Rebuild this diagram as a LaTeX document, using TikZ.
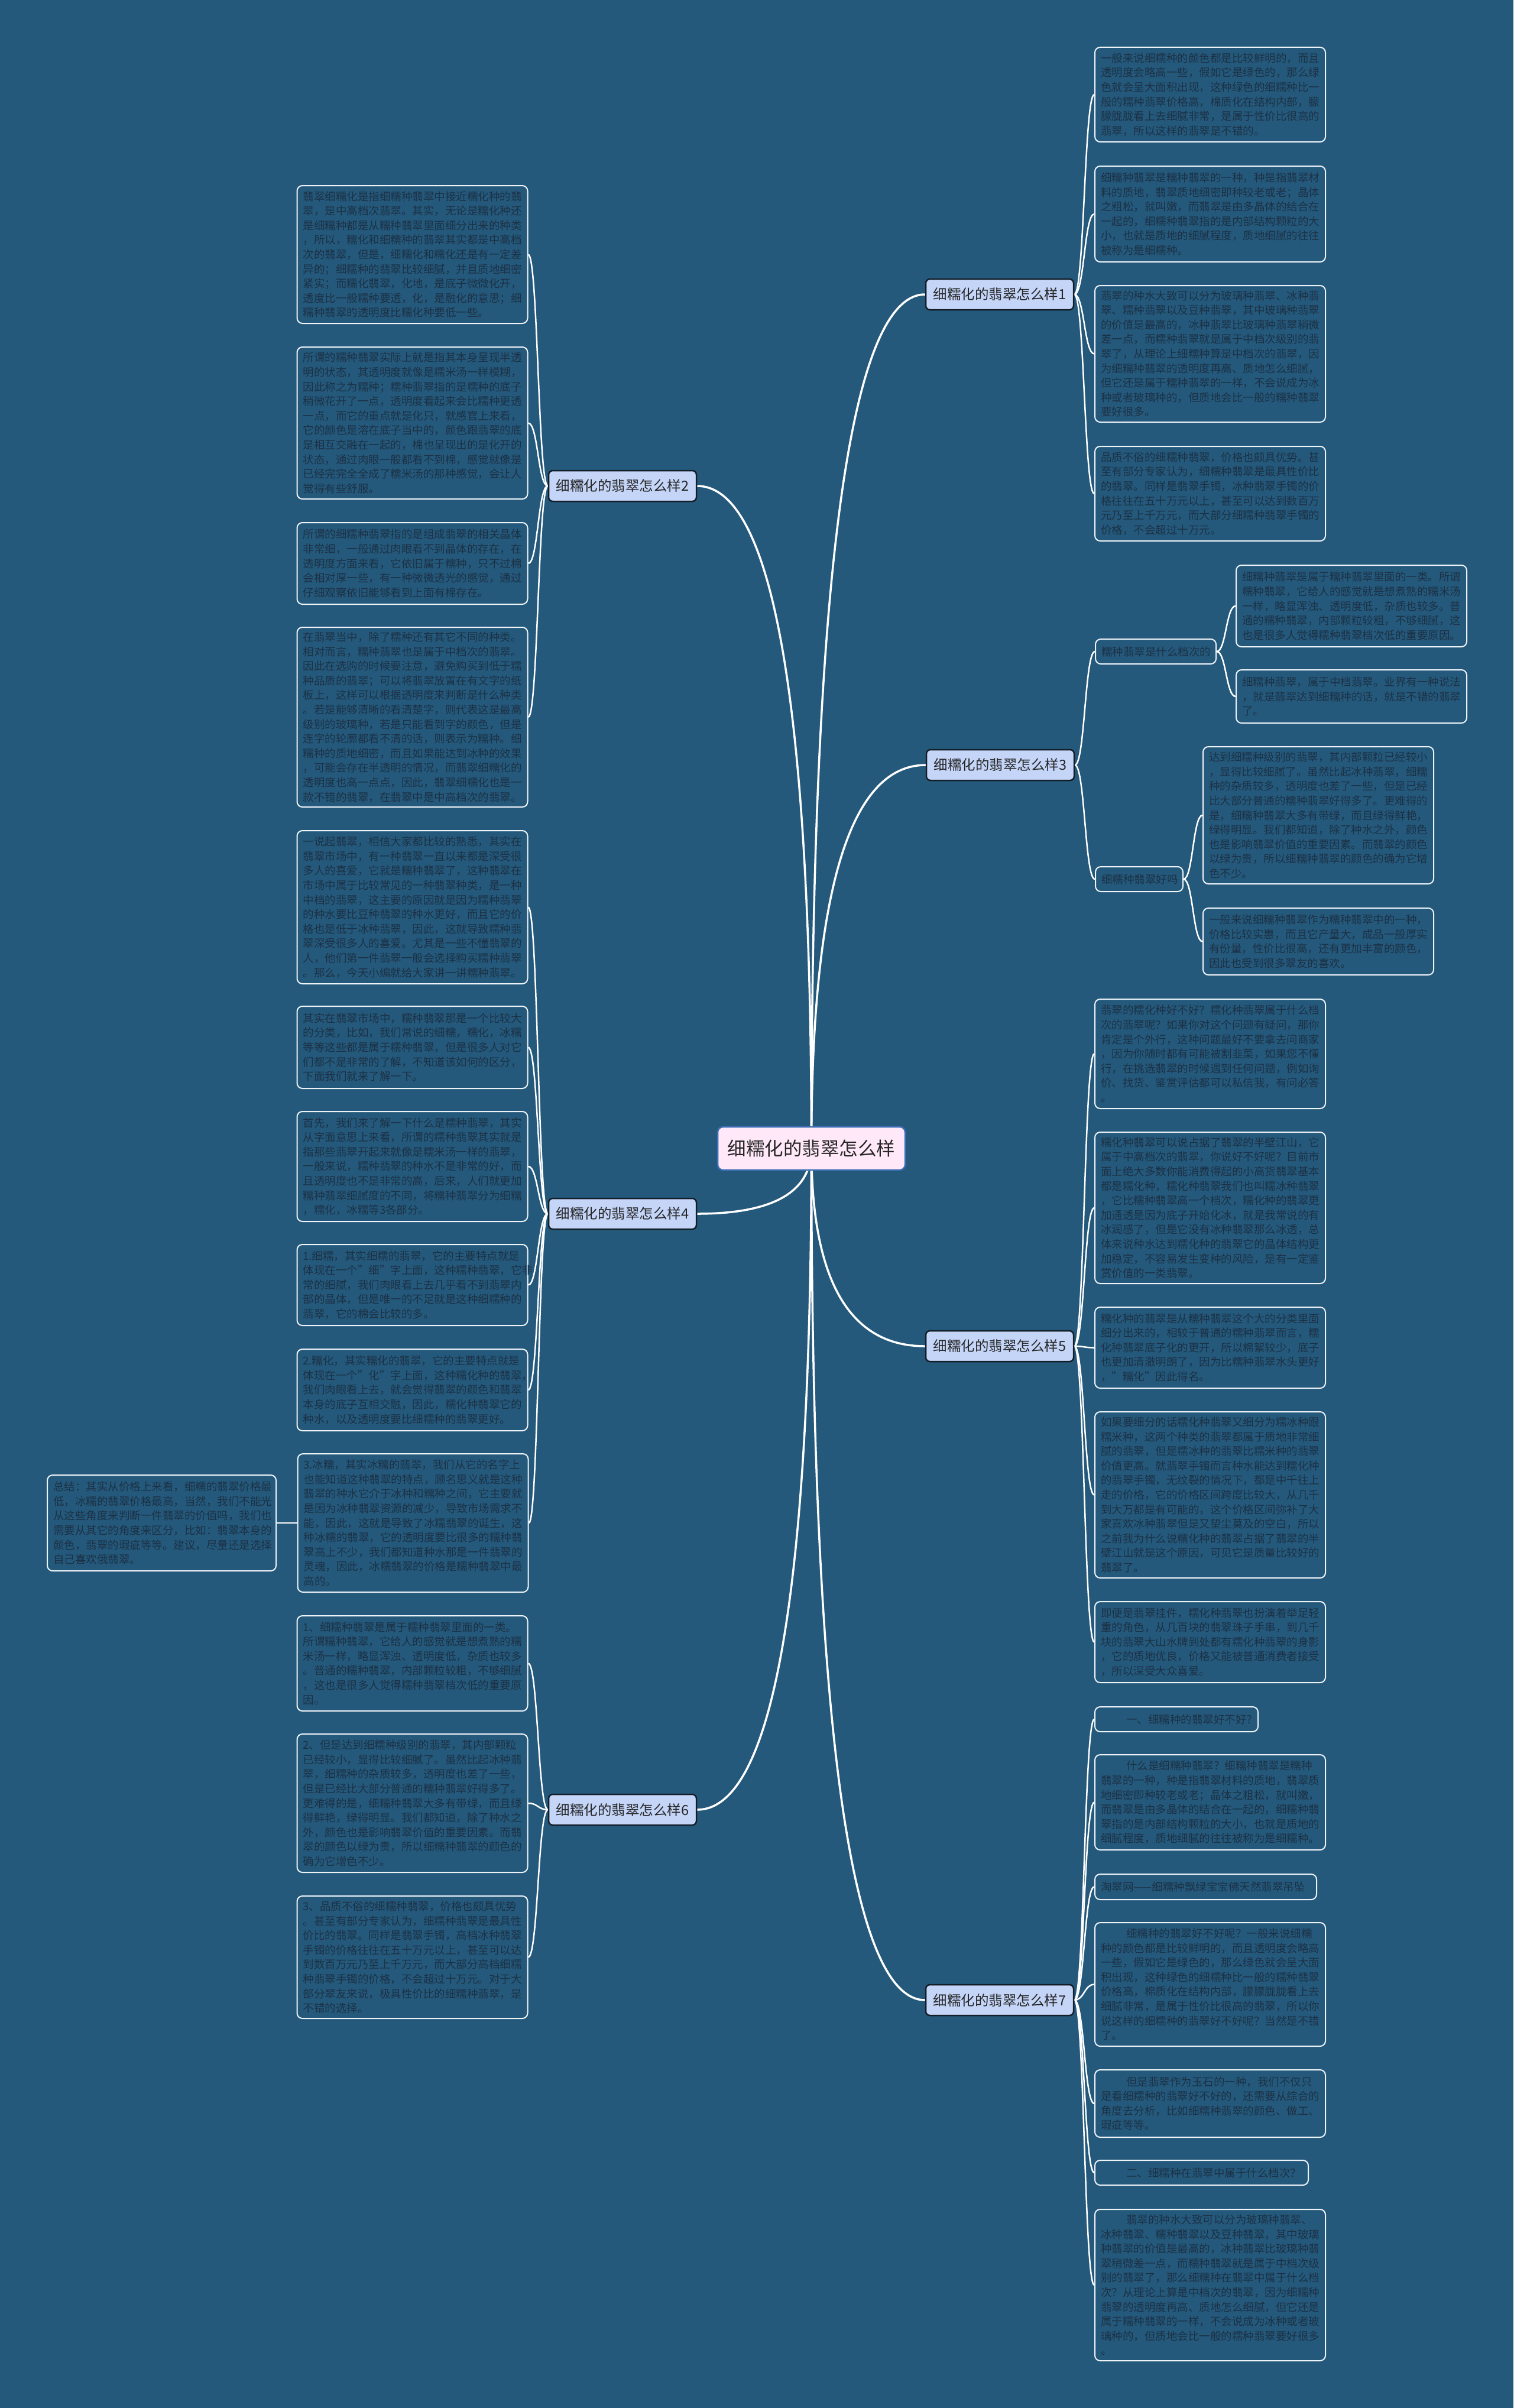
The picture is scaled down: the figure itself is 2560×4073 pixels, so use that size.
\documentclass[tikz,border=0pt]{standalone}
\usepackage{fontspec}
\setmainfont{Noto Sans CJK SC}
\usetikzlibrary{calc,backgrounds}
\definecolor{bgc}{HTML}{24597C}
\definecolor{leafline}{HTML}{EEF3F8}
\definecolor{leaftext}{HTML}{1C3145}
\definecolor{branchfill}{HTML}{C4D5F8}
\definecolor{branchline}{HTML}{141E28}
\definecolor{rootfill}{HTML}{FFE8F8}
\definecolor{rootline}{HTML}{3D6FB5}
\tikzset{
  leafbox/.style={draw=leafline, line width=2pt, fill=bgc, rounded corners=9pt, text=leaftext,
    font=\fontsize{18.5}{24.6}\selectfont, align=left, text width=370pt, inner xsep=10pt, inner ysep=5pt},
  branchbox/.style={draw=branchline, line width=2.5pt, fill=branchfill, rounded corners=7pt, text=black!85,
    font=\fontsize{23.5}{28}\selectfont, minimum width=250pt, minimum height=52pt, inner sep=4pt},
  rootbox/.style={draw=rootline, line width=2.5pt, fill=rootfill, rounded corners=9pt, text=black!85,
    font=\fontsize{31.5}{36}\selectfont, minimum width=317pt, minimum height=73pt},
  mainlink/.style={draw=white, line width=3.5pt},
  leaflink/.style={draw=white, line width=2.5pt}
}
\newcommand{\linkR}[2]{\path ($(#1.east)!0.5!(#2.west)$) coordinate (mm);
  \draw[leaflink] (#1.east) .. controls (mm|-#1.east) and (mm|-#2.west) .. (#2.west);}
\newcommand{\linkL}[2]{\path ($(#1.west)!0.5!(#2.east)$) coordinate (mm);
  \draw[leaflink] (#1.west) .. controls (mm|-#1.west) and (mm|-#2.east) .. (#2.east);}
\newcommand{\rootR}[2]{\draw[mainlink] (#1.center) .. controls ($(#1.center)!0.6667!(#1.center|-#2.west)$) and ($(#2.west)!0.6667!(#1.center|-#2.west)$) .. (#2.west);}
\newcommand{\rootL}[2]{\draw[mainlink] (#1.center) .. controls ($(#1.center)!0.6667!(#1.center|-#2.east)$) and ($(#2.east)!0.6667!(#1.center|-#2.east)$) .. (#2.east);}
\newcommand{\ind}{\hspace*{43pt}}
\begin{document}
\begin{tikzpicture}[x=1pt,y=-1pt]
\useasboundingbox (0,0) rectangle (2560,4073);
% root and branches
\node[rootbox] (root) at (1372.5,1942.5) {细糯化的翡翠怎么样};
\node[branchbox] (b1) at (1691,498) {细糯化的翡翠怎么样1};
\node[branchbox] (b2) at (1053,822) {细糯化的翡翠怎么样2};
\node[branchbox] (b3) at (1692,1294) {细糯化的翡翠怎么样3};
\node[branchbox] (b4) at (1053,2053) {细糯化的翡翠怎么样4};
\node[branchbox] (b5) at (1691,2277) {细糯化的翡翠怎么样5};
\node[branchbox] (b6) at (1053,3061) {细糯化的翡翠怎么样6};
\node[branchbox] (b7) at (1691,3383) {细糯化的翡翠怎么样7};
% branch 1
\node[leafbox, minimum height=160pt] (r1) at (2047,160) {一般来说细糯种的颜色都是比较鲜明的，而且\\透明度会略高一些，假如它是绿色的，那么绿\\色就会呈大面积出现，这种绿色的细糯种比一\\般的糯种翡翠价格高，棉质化在结构内部，朦\\朦胧胧看上去细腻非常，是属于性价比很高的\\翡翠，所以这样的翡翠是不错的。};
\node[leafbox, minimum height=162pt] (r2) at (2047,362) {细糯种翡翠是糯种翡翠的一种，种是指翡翠材\\料的质地，翡翠质地细密即种较老或老；晶体\\之粗松，就叫嫩，而翡翠是由多晶体的结合在\\一起的，细糯种翡翠指的是内部结构颗粒的大\\小，也就是质地的细腻程度，质地细腻的往往\\被称为是细糯种。};
\node[leafbox, minimum height=231pt] (r3) at (2047,598.5) {翡翠的种水大致可以分为玻璃种翡翠、冰种翡\\翠、糯种翡翠以及豆种翡翠，其中玻璃种翡翠\\的价值是最高的，冰种翡翠比玻璃种翡翠稍微\\差一点，而糯种翡翠就是属于中档次级别的翡\\翠了，从理论上细糯种算是中档次的翡翠，因\\为细糯种翡翠的透明度再高、质地怎么细腻，\\但它还是属于糯种翡翠的一样，不会说成为冰\\种或者玻璃种的，但质地会比一般的糯种翡翠\\要好很多。};
\node[leafbox, minimum height=160pt] (r4) at (2047,835) {品质不俗的细糯种翡翠，价格也颇具优势。甚\\至有部分专家认为，细糯种翡翠是最具性价比\\的翡翠。同样是翡翠手镯，冰种翡翠手镯的价\\格往往在五十万元以上，甚至可以达到数百万\\元乃至上千万元，而大部分细糯种翡翠手镯的\\价格，不会超过十万元。};
% branch 3
\node[leafbox, text width=184pt, minimum height=42pt] (s1) at (1955,1102) {糯种翡翠是什么档次的};
\node[leafbox, minimum height=138pt] (s1a) at (2286,1025) {细糯种翡翠是属于糯种翡翠里面的一类。所谓\\糯种翡翠，它给人的感觉就是想煮熟的糯米汤\\一样，略显浑浊、透明度低，杂质也较多。普\\通的糯种翡翠，内部颗粒较粗，不够细腻，这\\也是很多人觉得糯种翡翠档次低的重要原因。};
\node[leafbox, minimum height=90pt] (s1b) at (2286,1178) {细糯种翡翠，属于中档翡翠。业界有一种说法\\，就是翡翠达到细糯种的话，就是不错的翡翠\\了。};
\node[leafbox, text width=128pt, minimum height=42pt] (s2) at (1927,1487) {细糯种翡翠好吗};
\node[leafbox, minimum height=232pt] (s2a) at (2230,1379) {达到细糯种级别的翡翠，其内部颗粒已经较小\\，显得比较细腻了。虽然比起冰种翡翠，细糯\\种的杂质较多，透明度也差了一些，但是已经\\比大部分普通的糯种翡翠好得多了。更难得的\\是，细糯种翡翠大多有带绿，而且绿得鲜艳，\\绿得明显。我们都知道，除了种水之外，颜色\\也是影响翡翠价值的重要因素。而翡翠的颜色\\以绿为贵，所以细糯种翡翠的颜色的确为它增\\色不少。};
\node[leafbox, minimum height=113pt] (s2b) at (2230,1592.5) {一般来说细糯种翡翠作为糯种翡翠中的一种，\\价格比较实惠，而且它产量大，成品一般厚实\\有份量，性价比很高，还有更加丰富的颜色，\\因此也受到很多翠友的喜欢。};
% branch 5
\node[leafbox, minimum height=185pt] (r5a) at (2047,1782.5) {翡翠的糯化种好不好？糯化种翡翠属于什么档\\次的翡翠呢？如果你对这个问题有疑问，那你\\肯定是个外行，这种问题最好不要拿去问商家\\，因为你随时都有可能被割韭菜，如果您不懂\\行，在挑选翡翠的时候遇到任何问题，例如询\\价、找货、鉴赏评估都可以私信我，有问必答\\。};
\node[leafbox, minimum height=256pt] (r5b) at (2047,2043) {糯化种翡翠可以说占据了翡翠的半壁江山，它\\属于中高档次的翡翠，你说好不好呢？目前市\\面上绝大多数你能消费得起的小高货翡翠基本\\都是糯化种，糯化种翡翠我们也叫糯冰种翡翠\\，它比糯种翡翠高一个档次，糯化种的翡翠更\\加通透是因为底子开始化冰，就是我常说的有\\冰润感了，但是它没有冰种翡翠那么冰透，总\\体来说种水达到糯化种的翡翠它的晶体结构更\\加稳定，不容易发生变种的风险，是有一定鉴\\赏价值的一类翡翠。};
\node[leafbox, minimum height=137pt] (r5c) at (2047,2279.5) {糯化种的翡翠是从糯种翡翠这个大的分类里面\\细分出来的，相较于普通的糯种翡翠而言，糯\\化种翡翠底子化的更开，所以棉絮较少，底子\\也更加清澈明朗了，因为比糯种翡翠水头更好\\，"糯化"因此得名。};
\node[leafbox, minimum height=281pt] (r5d) at (2047,2528.5) {如果要细分的话糯化种翡翠又细分为糯冰种跟\\糯米种，这两个种类的翡翠都属于质地非常细\\腻的翡翠，但是糯冰种的翡翠比糯米种的翡翠\\价值更高。就翡翠手镯而言种水能达到糯化种\\的翡翠手镯，无纹裂的情况下，都是中千往上\\走的价格，它的价格区间跨度比较大，从几千\\到大万都是有可能的，这个价格区间弥补了大\\家喜欢冰种翡翠但是又望尘莫及的空白，所以\\之前我为什么说糯化种的翡翠占据了翡翠的半\\壁江山就是这个原因，可见它是质量比较好的\\翡翠了。};
\node[leafbox, minimum height=137pt] (r5e) at (2047,2777.5) {即便是翡翠挂件，糯化种翡翠也扮演着举足轻\\重的角色，从几百块的翡翠珠子手串，到几千\\块的翡翠大山水牌到处都有糯化种翡翠的身影\\，它的质地优良，价格又能被普通消费者接受\\，所以深受大众喜爱。};
% branch 7
\node[leafbox, text width=256pt, minimum height=42pt] (r7a) at (1990,2908) {\ind 一、细糯种的翡翠好不好？};
\node[leafbox, minimum height=161pt] (r7b) at (2047,3048.5) {\ind 什么是细糯种翡翠？细糯种翡翠是糯种\\翡翠的一种，种是指翡翠材料的质地，翡翠质\\地细密即种较老或老；晶体之粗松，就叫嫩，\\而翡翠是由多晶体的结合在一起的，细糯种翡\\翠指的是内部结构颗粒的大小，也就是质地的\\细腻程度，质地细腻的往往被称为是细糯种。};
\node[leafbox, text width=355pt, minimum height=43pt] (r7c) at (2039.5,3191.5) {淘翠网——细糯种飘绿宝宝佛天然翡翠吊坠};
\node[leafbox, minimum height=209pt] (r7d) at (2047,3356.5) {\ind 细糯种的翡翠好不好呢？一般来说细糯\\种的颜色都是比较鲜明的，而且透明度会略高\\一些，假如它是绿色的，那么绿色就会呈大面\\积出现，这种绿色的细糯种比一般的糯种翡翠\\价格高，棉质化在结构内部，朦朦胧胧看上去\\细腻非常，是属于性价比很高的翡翠，所以你\\说这样的细糯种的翡翠好不好呢？当然是不错\\了。};
\node[leafbox, minimum height=114pt] (r7e) at (2047,3558) {\ind 但是翡翠作为玉石的一种，我们不仅只\\是看细糯种的翡翠好不好的，还需要从综合的\\角度去分析，比如细糯种翡翠的颜色、做工、\\瑕疵等等。};
\node[leafbox, text width=341pt, minimum height=42pt] (r7f) at (2032.5,3675) {\ind 二、细糯种在翡翠中属于什么档次？};
\node[leafbox, minimum height=256pt] (r7g) at (2047,3865) {\ind 翡翠的种水大致可以分为玻璃种翡翠、\\冰种翡翠、糯种翡翠以及豆种翡翠，其中玻璃\\种翡翠的价值是最高的，冰种翡翠比玻璃种翡\\翠稍微差一点，而糯种翡翠就是属于中档次级\\别的翡翠了，那么细糯种在翡翠中属于什么档\\次？从理论上算是中档次的翡翠，因为细糯种\\翡翠的透明度再高、质地怎么细腻，但它还是\\属于糯种翡翠的一样，不会说成为冰种或者玻\\璃种的，但质地会比一般的糯种翡翠要好很多\\。};
% branch 2
\node[leafbox, minimum height=233pt] (l2a) at (697.5,430.5) {翡翠细糯化是指细糯种翡翠中接近糯化种的翡\\翠，是中高档次翡翠。其实，无论是糯化种还\\是细糯种都是从糯种翡翠里面细分出来的种类\\，所以，糯化和细糯种的翡翠其实都是中高档\\次的翡翠，但是，细糯化和糯化还是有一定差\\异的；细糯种的翡翠比较细腻，并且质地细密\\紧实；而糯化翡翠，化地，是底子微微化开，\\透度比一般糯种要透，化，是融化的意思；细\\糯种翡翠的透明度比糯化种要低一些。};
\node[leafbox, minimum height=257pt] (l2b) at (697.5,715.5) {所谓的糯种翡翠实际上就是指其本身呈现半透\\明的状态，其透明度就像是糯米汤一样模糊，\\因此称之为糯种；糯种翡翠指的是糯种的底子\\稍微花开了一点，透明度看起来会比糯种更透\\一点，而它的重点就是化只，就感官上来看，\\它的颜色是溶在底子当中的，颜色跟翡翠的底\\是相互交融在一起的，棉也呈现出的是化开的\\状态，通过肉眼一般都看不到棉，感觉就像是\\已经完完全全成了糯米汤的那种感觉，会让人\\觉得有些舒服。};
\node[leafbox, minimum height=138pt] (l2c) at (697.5,953) {所谓的细糯种翡翠指的是组成翡翠的相关晶体\\非常细，一般通过肉眼看不到晶体的存在，在\\透明度方面来看，它依旧属于糯种，只不过棉\\会相对厚一些，有一种微微透光的感觉，通过\\仔细观察依旧能够看到上面有棉存在。};
\node[leafbox, minimum height=304pt] (l2d) at (697.5,1213) {在翡翠当中，除了糯种还有其它不同的种类。\\相对而言，糯种翡翠也是属于中档次的翡翠。\\因此在选购的时候要注意，避免购买到低于糯\\种品质的翡翠；可以将翡翠放置在有文字的纸\\板上，这样可以根据透明度来判断是什么种类\\。若是能够清晰的看清楚字，则代表这是最高\\级别的玻璃种，若是只能看到字的颜色，但是\\连字的轮廓都看不清的话，则表示为糯种。细\\糯种的质地细密，而且如果能达到冰种的效果\\，可能会存在半透明的情况，而翡翠细糯化的\\透明度也高一点点，因此，翡翠细糯化也是一\\款不错的翡翠，在翡翠中是中高档次的翡翠。};
% branch 4
\node[leafbox, minimum height=259pt] (l4a) at (697.5,1534.5) {一说起翡翠，相信大家都比较的熟悉，其实在\\翡翠市场中，有一种翡翠一直以来都是深受很\\多人的喜爱，它就是糯种翡翠了，这种翡翠在\\市场中属于比较常见的一种翡翠种类，是一种\\中档的翡翠，这主要的原因就是因为糯种翡翠\\的种水要比豆种翡翠的种水更好，而且它的价\\格也是低于冰种翡翠，因此，这就导致糯种翡\\翠深受很多人的喜爱。尤其是一些不懂翡翠的\\人，他们第一件翡翠一般会选择购买糯种翡翠\\。那么，今天小编就给大家讲一讲糯种翡翠。};
\node[leafbox, minimum height=139pt] (l4b) at (697.5,1771.5) {其实在翡翠市场中，糯种翡翠那是一个比较大\\的分类，比如，我们常说的细糯，糯化，冰糯\\等等这些都是属于糯种翡翠，但是很多人对它\\们都不是非常的了解，不知道该如何的区分，\\下面我们就来了解一下。};
\node[leafbox, minimum height=186pt] (l4c) at (697.5,1973) {首先，我们来了解一下什么是糯种翡翠，其实\\从字面意思上来看，所谓的糯种翡翠其实就是\\指那些翡翠开起来就像是糯米汤一样的翡翠，\\一般来说，糯种翡翠的种水不是非常的好，而\\且透明度也不是非常的高，后来，人们就更加\\糯种翡翠细腻度的不同，将糯种翡翠分为细糯\\，糯化，冰糯等3各部分。};
\node[leafbox, minimum height=137pt] (l4d) at (697.5,2173.5) {1.细糯，其实细糯的翡翠，它的主要特点就是\\体现在一个"细"字上面，这种糯种翡翠，它非\\常的细腻，我们肉眼看上去几乎看不到翡翠内\\部的晶体，但是唯一的不足就是这种细糯种的\\翡翠，它的棉会比较的多。};
\node[leafbox, minimum height=138pt] (l4e) at (697.5,2351) {2.糯化，其实糯化的翡翠，它的主要特点就是\\体现在一个"化"字上面，这种糯化种的翡翠，\\我们肉眼看上去，就会觉得翡翠的颜色和翡翠\\本身的底子互相交融，因此，糯化种翡翠它的\\种水，以及透明度要比细糯种的翡翠更好。};
\node[leafbox, minimum height=234pt] (l4f) at (698.5,2576) {3.冰糯，其实冰糯的翡翠，我们从它的名字上\\也能知道这种翡翠的特点，顾名思义就是这种\\翡翠的种水它介于冰种和糯种之间，它主要就\\是因为冰种翡翠资源的减少，导致市场需求不\\能，因此，这就是导致了冰糯翡翠的诞生，这\\种冰糯的翡翠，它的透明度要比很多的糯种翡\\翠高上不少，我们都知道种水那是一件翡翠的\\灵魂，因此，冰糯翡翠的价格是糯种翡翠中最\\高的。};
\node[leafbox, text width=367pt, minimum height=162pt] (sumbox) at (273.5,2576) {总结：其实从价格上来看，细糯的翡翠价格最\\低，冰糯的翡翠价格最高，当然，我们不能光\\从这些角度来判断一件翡翠的价值吗，我们也\\需要从其它的角度来区分，比如：翡翠本身的\\颜色，翡翠的瑕疵等等。建议，尽量还是选择\\自己喜欢俄翡翠。};
% branch 6
\node[leafbox, minimum height=161pt] (l6a) at (697.5,2813.5) {1、细糯种翡翠是属于糯种翡翠里面的一类。\\所谓糯种翡翠，它给人的感觉就是想煮熟的糯\\米汤一样，略显浑浊、透明度低，杂质也较多\\。普通的糯种翡翠，内部颗粒较粗，不够细腻\\，这也是很多人觉得糯种翡翠档次低的重要原\\因。};
\node[leafbox, minimum height=234pt] (l6b) at (697.5,3050) {2、但是达到细糯种级别的翡翠，其内部颗粒\\已经较小，显得比较细腻了。虽然比起冰种翡\\翠，细糯种的杂质较多，透明度也差了一些，\\但是已经比大部分普通的糯种翡翠好得多了。\\更难得的是，细糯种翡翠大多有带绿，而且绿\\得鲜艳，绿得明显。我们都知道，除了种水之\\外，颜色也是影响翡翠价值的重要因素。而翡\\翠的颜色以绿为贵，所以细糯种翡翠的颜色的\\确为它增色不少。};
\node[leafbox, minimum height=207pt] (l6c) at (697.5,3310.5) {3、品质不俗的细糯种翡翠，价格也颇具优势\\。甚至有部分专家认为，细糯种翡翠是最具性\\价比的翡翠。同样是翡翠手镯，高档冰种翡翠\\手镯的价格往往在五十万元以上，甚至可以达\\到数百万元乃至上千万元，而大部分高档细糯\\种翡翠手镯的价格，不会超过十万元。对于大\\部分翠友来说，极具性价比的细糯种翡翠，是\\不错的选择。};
% connectors
\begin{pgfonlayer}{background}
\fill[bgc] (0,0) rectangle (2560,4073);
\rootR{root}{b1} \rootL{root}{b2} \rootR{root}{b3} \rootL{root}{b4}
\rootR{root}{b5} \rootL{root}{b6} \rootR{root}{b7}
\linkR{b1}{r1} \linkR{b1}{r2} \linkR{b1}{r3} \linkR{b1}{r4}
\linkR{b3}{s1} \linkR{b3}{s2}
\linkR{s1}{s1a} \linkR{s1}{s1b} \linkR{s2}{s2a} \linkR{s2}{s2b}
\linkR{b5}{r5a} \linkR{b5}{r5b} \linkR{b5}{r5c} \linkR{b5}{r5d} \linkR{b5}{r5e}
\linkR{b7}{r7a} \linkR{b7}{r7b} \linkR{b7}{r7c} \linkR{b7}{r7d} \linkR{b7}{r7e} \linkR{b7}{r7f} \linkR{b7}{r7g}
\linkL{b2}{l2a} \linkL{b2}{l2b} \linkL{b2}{l2c} \linkL{b2}{l2d}
\linkL{b4}{l4a} \linkL{b4}{l4b} \linkL{b4}{l4c} \linkL{b4}{l4d} \linkL{b4}{l4e} \linkL{b4}{l4f}
\linkL{l4f}{sumbox}
\linkL{b6}{l6a} \linkL{b6}{l6b} \linkL{b6}{l6c}
\end{pgfonlayer}
\end{tikzpicture}
\end{document}
